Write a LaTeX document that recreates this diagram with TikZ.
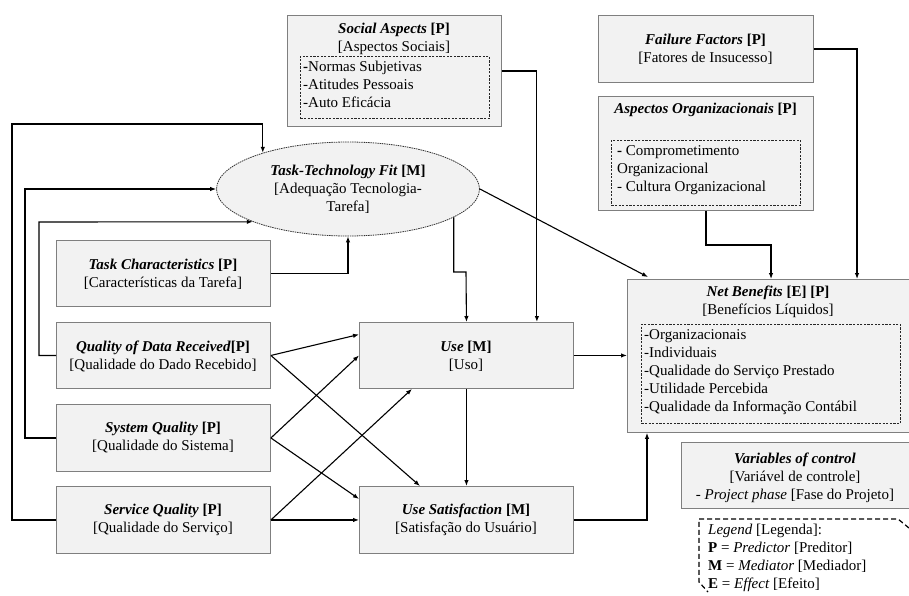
\documentclass[tikz,border=0pt]{standalone}
\usepackage{fontspec}
\setmainfont{Liberation Serif}
\usetikzlibrary{arrows.meta,shapes.geometric,calc}
\definecolor{boxfill}{HTML}{F2F2F2}
\definecolor{boxborder}{HTML}{7F7F7F}
\tikzset{
  box/.style={draw=boxborder, fill=boxfill, line width=0.9pt, inner sep=0pt, anchor=north west},
  txt/.style={align=center, inner sep=0pt, font=\fontsize{15}{18}\selectfont},
  ltxt/.style={align=left, inner sep=0pt, anchor=north west, font=\fontsize{15}{18}\selectfont},
  dbox/.style={draw=black!85, dash pattern=on 2.2pt off 1.4pt, line width=0.8pt, inner sep=0pt, anchor=north west},
  arr/.style={-{Latex[length=6pt,width=4.5pt]}, line width=1.1pt},
}
\begin{document}
\begin{tikzpicture}[x=1pt,y=-1pt]
\useasboundingbox (0,0) rectangle (909,595);
\begin{scope}
\clip (0,0) rectangle (909,595);
% Social Aspects
\node[box, minimum width=214pt, minimum height=111pt] (sa) at (287,15) {};
\node[txt] (sat) at (394,39) {\textbf{\textit{Social Aspects}} \textbf{[P]}\\{[Aspectos Sociais]}};
\node[dbox, minimum width=189pt, minimum height=62pt] (sad) at (300,56) {};
\node[ltxt] (sal) at (303,61) {\textbf{-}Normas Subjetivas\\-Atitudes Pessoais\\-Auto Eficácia};
% Failure Factors
\node[box, minimum width=215pt, minimum height=67pt] (ff) at (598,15) {};
\node[txt] (fft) at (705.5,49) {\textbf{\textit{Failure Factors}} \textbf{[P]}\\{[Fatores de Insucesso]}};
% Aspectos Organizacionais
\node[box, minimum width=215pt, minimum height=114pt] (ao) at (598,96) {};
\node[txt] (aot) at (705.5,110) {\textbf{\textit{Aspectos Organizacionais}} \textbf{[P]}};
\node[dbox, minimum width=189pt, minimum height=65pt] (aod) at (611,140) {};
\node[ltxt] (aol) at (617,145) {\textbf{-} Comprometimento\\Organizacional\\- Cultura Organizacional};
% Task-Technology Fit
\node[ellipse, draw=black!80, fill=boxfill, dash pattern=on 1.5pt off 0.8pt, line width=0.8pt,
      minimum width=263pt, minimum height=94pt, inner sep=0pt] (ttf) at (348,189) {};
\node[txt] (ttft) at (348,189) {\textbf{\textit{Task-Technology Fit}} \textbf{[M]}\\{[Adequação Tecnologia-}\\Tarefa]};
% Left column
\node[box, minimum width=214pt, minimum height=66pt] (tc) at (56,240) {};
\node[txt] (tct) at (163,274) {\textbf{\textit{Task Characteristics}} \textbf{[P]}\\{[Características da Tarefa]}};
\node[box, minimum width=214pt, minimum height=66pt] (qdr) at (56,322) {};
\node[txt] (qdrt) at (163,356) {\textbf{\textit{Quality of Data Received}}\textbf{[P]}\\{[Qualidade do Dado Recebido]}};
\node[box, minimum width=214pt, minimum height=67pt] (sq) at (56,404) {};
\node[txt] (sqt) at (163,438) {\textbf{\textit{System Quality}} \textbf{[P]}\\{[Qualidade do Sistema]}};
\node[box, minimum width=214pt, minimum height=67pt] (svq) at (56,486) {};
\node[txt] (svqt) at (163,520) {\textbf{\textit{Service Quality}} \textbf{[P]}\\{[Qualidade do Serviço]}};
% Middle
\node[box, minimum width=214pt, minimum height=66pt] (use) at (359,322) {};
\node[txt] (uset) at (466,356) {\textbf{\textit{Use}} \textbf{[M]}\\{[Uso]}};
\node[box, minimum width=214pt, minimum height=67pt] (us) at (359,486) {};
\node[txt] (ust) at (466,520) {\textbf{\textit{Use Satisfaction}} \textbf{[M]}\\{[Satisfação do Usuário]}};
% Net Benefits
\node[box, minimum width=285pt, minimum height=153pt] (nb) at (627,279) {};
\node[txt] (nbt) at (768,302) {\textbf{\textit{Net Benefits}} \textbf{[E] [P]}\\{[Benefícios Líquidos]}};
\node[dbox, minimum width=259pt, minimum height=99pt] (nbd) at (641,324) {};
\node[ltxt] (nbl) at (644,329) {-Organizacionais\\-Individuais\\-Qualidade do Serviço Prestado\\-Utilidade Percebida\\-Qualidade da Informação Contábil};
% Variables of control
\node[box, minimum width=231pt, minimum height=66pt] (vc) at (681,442) {};
\node[txt] (vct) at (795,478) {\textbf{\textit{Variables of control}}\\{[Variável de controle]}\\- \textit{Project phase} [Fase do Projeto]};
% Legend
\draw[line width=1.2pt, dash pattern=on 5pt off 3pt] (909,528) -- (898,519) -- (699,519) -- (699,582) -- (708,592);
\node[ltxt] (lg) at (708,524) {\textit{Legend} [Legenda]:\\\textbf{P} = \textit{Predictor} [Preditor]\\\textbf{M} = \textit{Mediator} [Mediador]\\\textbf{E} = \textit{Effect} [Efeito]};
% Connectors
\coordinate (k1) at (466,272);
\coordinate (k3) at (771,245);
\draw[arr] (svq.west) -| (12,124) -| (ttf.157);
\draw[arr] (sq.west) -| (25,189) -- (ttf.west);
\draw[arr] (qdr.west) -| (39,222) -- (ttf.199.4);
\draw[arr] (tc.east) -| (ttf.south);
\draw[arr] (ttf.345.7) |- ($(k1)+(-11,0)$) -- (k1) -- (use.north);
\draw[arr] (sa.east) -| ($(use.north east)+(-37,0)$);
\draw[arr] (ttf.east) -- ($(nb.north west)+(21,-2)$);
\draw[arr] (ao.south) |- (k3) -- (k3 |- nb.north);
\draw[arr] (ff.east) -| ($(nb.north west)+(230,0)$);
\draw[arr] (use.east) -- (use.east -| nb.west);
\draw[arr] (use.south) -- (us.north);
\draw[arr] (us.east) -| ($(nb.south west)+(20,0)$);
\draw[arr] (qdr.east) -- ($(use.west)+(0,-21)$);
\draw[arr] (qdr.east) -- ($(us.north west)+(61,0)$);
\draw[arr] (sq.east) -- (use.west);
\draw[arr] (sq.east) -- ($(us.west)+(0,-21)$);
\draw[arr] (svq.east) -- ($(use.south west)+(53,0)$);
\draw[arr] (svq.east) -- (us.west);
\end{scope}
\end{tikzpicture}
\end{document}
